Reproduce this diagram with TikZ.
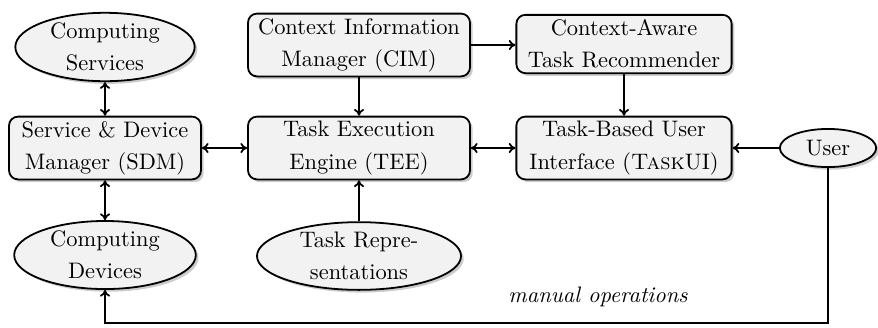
\documentclass[tikz,border=0pt]{standalone}
\usetikzlibrary{shadows,shapes.geometric,arrows.meta}
\begin{document}
\begin{tikzpicture}[x=0.446pt,y=-0.446pt,
  every node/.style={font=\fontsize{10}{14.3}\selectfont},
  box/.style={draw,thick,rounded corners=4pt,fill=gray!10,align=center,inner sep=2pt,
    drop shadow={shadow xshift=1.2pt,shadow yshift=-1.2pt,opacity=0.4}},
  ell/.style={draw,thick,ellipse,fill=gray!10,align=center,inner sep=0pt,
    drop shadow={shadow xshift=1.2pt,shadow yshift=-1.2pt,opacity=0.4}},
  conn/.style={thick,-{To[length=3pt,width=4.5pt]}},
  bconn/.style={thick,{To[length=3pt,width=4.5pt]}-{To[length=3pt,width=4.5pt]}}]
\useasboundingbox (0,0) rectangle (878,327);
\node[ell,minimum width=80pt,minimum height=30pt] (cs) at (105,47) {Computing\\Services};
\node[box,minimum width=85.6pt,minimum height=28pt] (sdm) at (105,148) {Service \& Device\\Manager (SDM)};
\node[ell,minimum width=81pt,minimum height=30pt] (cd) at (105,255) {Computing\\Devices};
\node[box,minimum width=99pt,minimum height=28pt] (cim) at (359,45) {Context Information\\Manager (CIM)};
\node[box,minimum width=99pt,minimum height=28pt] (tee) at (359,148) {Task Execution\\Engine (TEE)};
\node[ell,minimum width=91pt,minimum height=30pt] (tr) at (359,256) {Task Repre-\\sentations};
\node[box,minimum width=96pt,minimum height=26pt] (catr) at (624,44) {Context-Aware\\Task Recommender};
\node[box,minimum width=96pt,minimum height=28pt] (tui) at (624,148) {Task-Based User\\Interface (\textsc{Task}UI)};
\node[ell,minimum width=43pt,minimum height=17pt] (user) at (828,148) {User};
\node (mo) at (598,297) {\itshape manual operations};
\coordinate (br) at (user.south |- 0,323);
\coordinate (bl) at (cd.south |- 0,323);
\draw[bconn] (cs) -- (sdm);
\draw[bconn] (sdm) -- (cd);
\draw[bconn] (sdm) -- (tee);
\draw[bconn] (tee) -- (tui);
\draw[conn] (cim) -- (tee);
\draw[conn] (cim) -- (catr.west |- cim);
\draw[conn] (catr) -- (tui);
\draw[conn] (tr) -- (tee);
\draw[conn] (user) -- (tui);
\draw[conn] (user.south) -- (br) -- (bl) -- (cd.south);
\end{tikzpicture}
\end{document}
